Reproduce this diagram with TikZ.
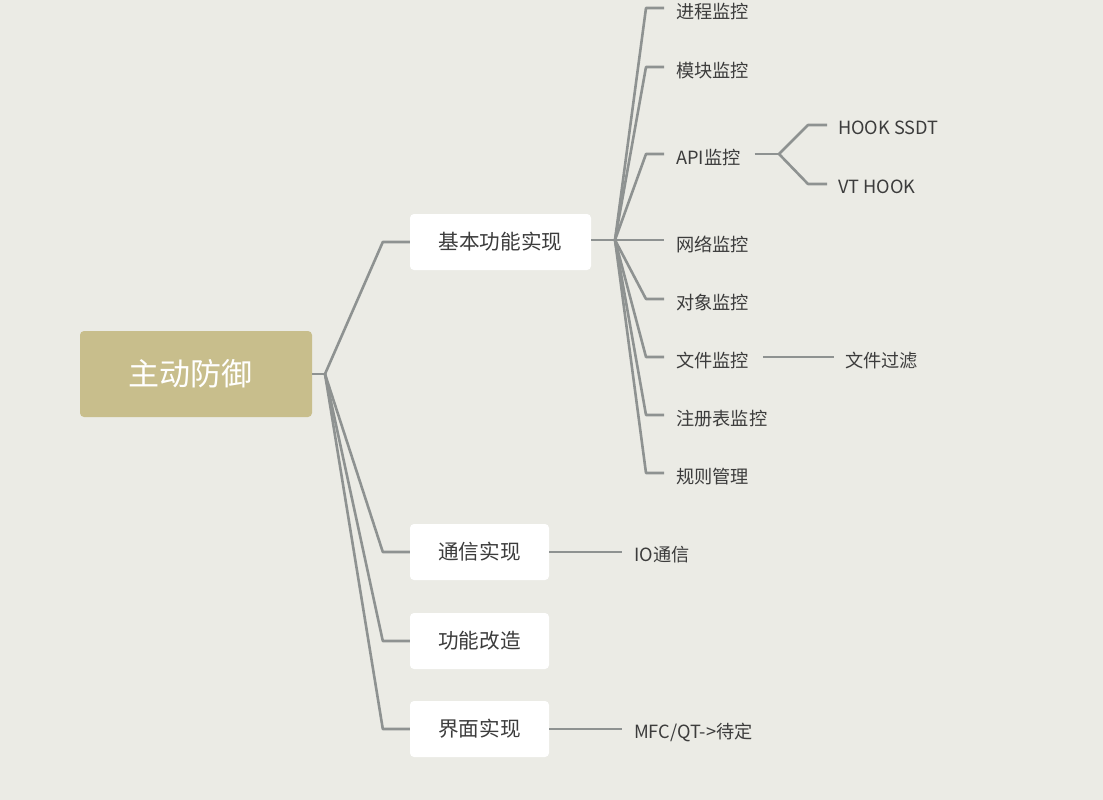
\documentclass[tikz,border=0pt]{standalone}
\usepackage{fontspec}
\setmainfont{Noto Sans CJK SC}
\definecolor{bgc}{RGB}{235,235,229}
\definecolor{rootc}{RGB}{200,190,140}
\definecolor{linec}{RGB}{142,146,145}
\definecolor{txtc}{RGB}{60,60,60}
\begin{document}
\begin{tikzpicture}[x=1pt,y=-1pt,
  rootbox/.style={fill=rootc,rounded corners=4pt,text=white,font=\fontsize{31}{34}\selectfont,minimum width=232pt,minimum height=86pt,inner sep=0pt},
  lvlbox/.style={fill=white,rounded corners=4pt,text=txtc,font=\fontsize{20.6}{24}\selectfont,minimum height=56pt,inner sep=0pt},
  leaf/.style={anchor=west,inner sep=0pt,text=txtc,font=\fontsize{18.2}{21}\selectfont},
  conn/.style={draw=linec,line width=2.6pt,line join=round}
]
\fill[bgc] (0,0) rectangle (1103,800);
\useasboundingbox (0,0) rectangle (1103,800);

\node[rootbox] (root) at (196,374) {\hspace*{-11pt}\raisebox{-3pt}{主动防御}};
\node[lvlbox,minimum width=181pt] (b1) at (500.5,242) {基本功能实现};
\node[lvlbox,minimum width=139pt] (b2) at (479.5,552) {通信实现};
\node[lvlbox,minimum width=139pt] (b3) at (479.5,641) {功能改造};
\node[lvlbox,minimum width=139pt] (b4) at (479.5,729) {界面实现};

\coordinate (rj) at (325,374);
\draw[conn] (root.east |- rj) -- (rj);
\foreach \b in {b1,b2,b3,b4}{
  \draw[conn] (rj) -- ([xshift=-27pt]\b.west) -- (\b.west);
}

% level 2 under b1
\coordinate (j1) at (615,240);
\foreach \l/\y/\t in {l1/8/进程监控,l2/67/模块监控,l3/154/API监控,l4/240/网络监控,l5/299/对象监控,l6/357/文件监控,l7/415/注册表监控,l8/473/规则管理}{
  \node[leaf] (\l) at (676,\y+4) {\t};
  \draw[conn] (j1) -- (646,\y) -- ([xshift=-12pt]\l.west |- 0,\y);
}
\draw[conn] (b1.east |- j1) -- (j1);

% API children
\node[leaf] (h1) at (838,128) {HOOK SSDT};
\node[leaf] (h2) at (838,187) {VT HOOK};
\coordinate (aj) at (779,154);
\draw[conn] ([xshift=14pt]l3.east |- aj) -- (aj);
\draw[conn] (aj) -- (808,125) -- ([xshift=-11pt]h1.west |- 0,125);
\draw[conn] (aj) -- (808,184) -- ([xshift=-11pt]h2.west |- 0,184);

% file child
\node[leaf] (ff) at (845,361) {文件过滤};
\draw[conn] ([xshift=14pt]l6.east |- 0,357) -- ([xshift=-11pt]ff.west |- 0,357);

% b2, b4 children
\node[leaf] (io) at (634,555) {IO通信};
\draw[conn] (b2.east |- 0,552) -- ([xshift=-12pt]io.west |- 0,552);
\node[leaf] (mq) at (634,732) {MFC/QT->待定};
\draw[conn] (b4.east |- 0,729) -- ([xshift=-12pt]mq.west |- 0,729);
\end{tikzpicture}
\end{document}
